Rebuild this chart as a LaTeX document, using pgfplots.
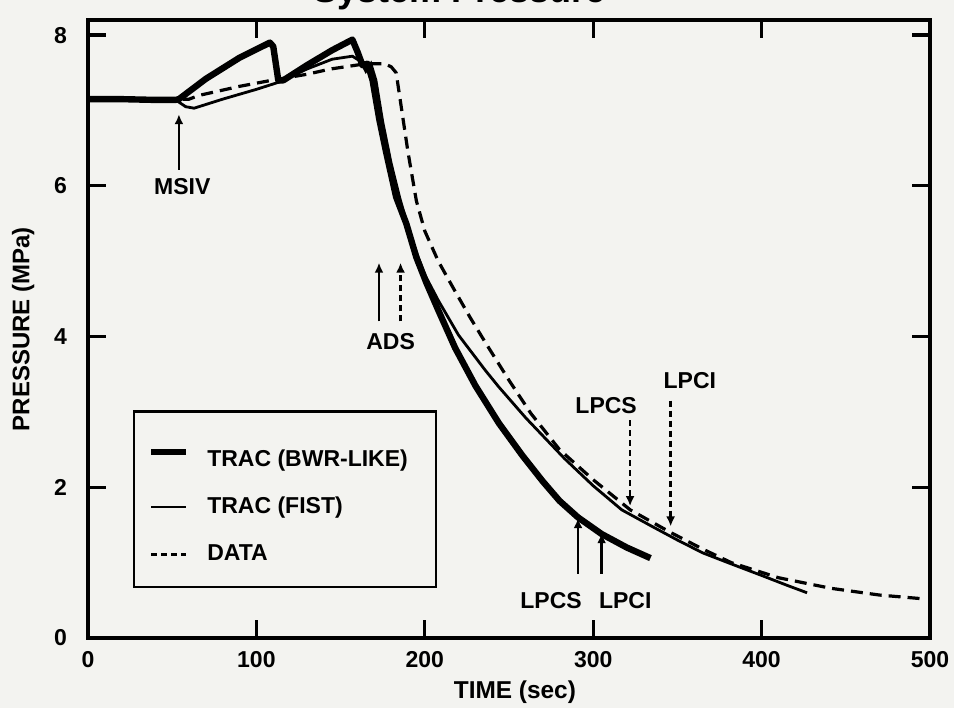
\documentclass[border=0pt]{standalone}
\usepackage{fontspec}
\setmainfont{Liberation Sans}
\usepackage{pgfplots}
\pgfplotsset{compat=1.18}
\usetikzlibrary{arrows.meta}
\definecolor{paper}{RGB}{243,243,240}

\begin{document}
\begin{tikzpicture}
\fill[paper] (-44pt,-35pt) rectangle (433pt,319pt);
\begin{axis}[
  at={(0,0)}, anchor=south west,
  scale only axis, width=421pt, height=309pt,
  xmin=0, xmax=500, ymin=0, ymax=8.2,
  xtick={0,100,...,500}, ytick={0,2,...,8},
  tick align=inside, major tick length=9pt,
  axis line style={line width=2pt},
  every tick/.style={line width=1.6pt, black},
  /pgf/number format/assume math mode=true,
  tick label style={font=\bfseries\fontsize{11.5}{13}\selectfont},
  xticklabel style={yshift=-3pt},
  yticklabel style={xshift=-7pt},
  xlabel={TIME (sec)},
  ylabel={PRESSURE (MPa)},
  every axis x label/.style={at={(axis description cs:0.507,-0.088)}, anchor=center, font=\bfseries\fontsize{12.2}{14}\selectfont},
  every axis y label/.style={at={(axis description cs:-0.077,0.5)}, rotate=90, anchor=center, font=\bfseries\fontsize{12}{14}\selectfont},
  legend style={at={(axis description cs:0.053,0.369)}, anchor=north west,
    draw=black, line width=1.3pt, fill=none,
    inner xsep=7pt, inner ysep=10.5pt, row sep=12pt,
    font=\bfseries\fontsize{11.5}{13}\selectfont,
    nodes={inner sep=1pt},
    /tikz/every odd column/.append style={column sep=8pt}},
  legend cell align=left,
  legend image code/.code={\draw[#1] (0pt,0pt) -- (17.5pt,0pt);},
  clip=false,
]
% DATA (dashed)
\addplot[black, line width=1.6pt, dash pattern=on 6pt off 3.5pt, forget plot] coordinates {
(0,7.15) (52,7.15) (60,7.15) (66,7.20) (90,7.32) (109,7.40) (130,7.48) (144,7.55)
(165,7.62) (176,7.62) (180,7.58) (183,7.50) (186,7.05) (190,6.45) (195,5.80)
(200,5.40) (208,5.00) (218,4.60) (227,4.25) (236,3.92) (250,3.42) (263,2.98) (280,2.50)
(300,2.10) (322,1.70) (346,1.40) (365,1.18) (382,1.00) (410,0.80) (441,0.66)
(470,0.57) (496,0.52)};
% TRAC (FIST) thin
\addplot[black, line width=1.4pt, forget plot] coordinates {
(0,7.15) (52,7.14) (58,7.05) (63,7.03) (80,7.15) (100,7.28) (114,7.38) (130,7.55)
(145,7.68) (157,7.72) (162,7.65) (165,7.52) (168,7.62) (171,7.40) (175,6.85)
(180,6.30) (185,5.85) (192,5.30) (200,4.82) (208,4.48) (220,4.02) (236,3.55)
(244,3.33) (260,2.92) (283,2.38) (300,2.02) (317,1.70) (335,1.48) (350,1.30)
(365,1.13) (380,1.00) (400,0.83) (415,0.70) (427,0.60)};
% TRAC (BWR-LIKE) thick
\addplot[black, line width=3.2pt, line join=round, forget plot] coordinates {
(0,7.15) (20,7.15) (40,7.14) (52,7.14) (54,7.15) (70,7.42) (90,7.70) (108,7.90)
(110,7.85) (113,7.40) (116,7.40) (130,7.60) (145,7.80) (157,7.94) (160,7.78)
(163,7.60) (166,7.62) (169,7.40) (173,6.88) (177,6.45) (180,6.15) (183,5.85)
(189,5.50) (195,5.05) (201,4.71) (208,4.35) (218,3.85) (230,3.35) (244,2.85)
(258,2.42) (270,2.08) (280,1.82) (291,1.60) (305,1.38) (320,1.20) (334,1.06)};

\addlegendimage{black, line width=3.2pt}
\addlegendentry{\rule[-2.5pt]{0pt}{18.5pt}TRAC (BWR-LIKE)\hspace*{6pt}}
\addlegendimage{black, line width=1.4pt}
\addlegendentry{\rule[-2.5pt]{0pt}{10.5pt}TRAC (FIST)}
\addlegendimage{black, line width=1.4pt, dash pattern=on 3pt off 2pt}
\addlegendentry{\rule[-2.5pt]{0pt}{10.5pt}DATA}

% annotations
\begin{scope}[font=\bfseries\fontsize{11.5}{13}\selectfont]
\draw[black, line width=1.4pt, -{Latex[length=5pt,width=4.5pt]}] (axis cs:54,6.21) -- (axis cs:54,6.95);
\node at (axis cs:56,5.99) {MSIV};
\draw[black, line width=1.4pt, -{Latex[length=5pt,width=4.5pt]}] (axis cs:172.8,4.2) -- (axis cs:172.8,4.98);
\draw[black, line width=1.4pt, dash pattern=on 3pt off 2pt, -{Latex[length=5pt,width=4.5pt]}] (axis cs:185.6,4.2) -- (axis cs:185.6,4.98);
\node at (axis cs:179.7,3.93) {ADS};
\node at (axis cs:307.7,3.08) {LPCS};
\draw[black, line width=1.4pt, dash pattern=on 3pt off 2pt, -{Latex[length=5pt,width=4.5pt]}] (axis cs:321.9,2.89) -- (axis cs:321.9,1.75);
\node at (axis cs:357.4,3.41) {LPCI};
\draw[black, line width=1.4pt, dash pattern=on 3pt off 2pt, -{Latex[length=5pt,width=4.5pt]}] (axis cs:346,3.15) -- (axis cs:346,1.48);
\node at (axis cs:275,0.49) {LPCS};
\draw[black, line width=1.4pt, -{Latex[length=5pt,width=4.5pt]}] (axis cs:291,0.85) -- (axis cs:291,1.59);
\node at (axis cs:319,0.49) {LPCI};
\draw[black, line width=1.4pt, -{Latex[length=5pt,width=4.5pt]}] (axis cs:305,0.85) -- (axis cs:305,1.39);
\end{scope}
\end{axis}
\node[anchor=base, font=\bfseries\fontsize{18}{20}\selectfont] at (186pt,317.5pt) {System Pressure};
\pgfresetboundingbox
\useasboundingbox (-44pt,-35pt) rectangle (433pt,319pt);
\end{tikzpicture}
\end{document}
